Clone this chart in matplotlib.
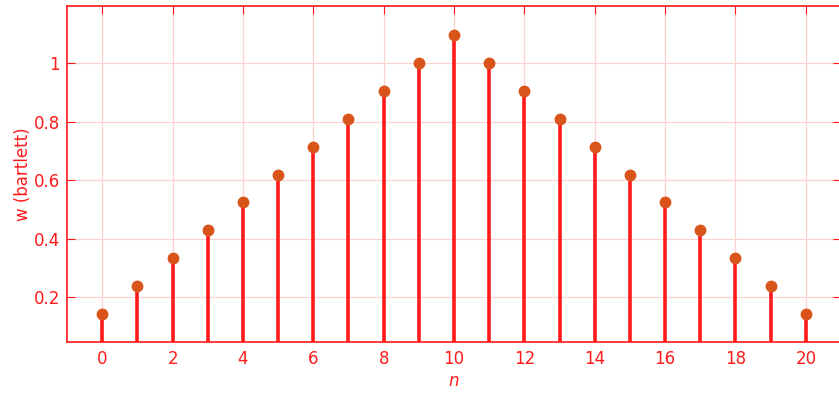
import matplotlib
matplotlib.use('Agg')
import matplotlib.pyplot as plt

n = list(range(21))
w = [0.143, 0.238, 0.333, 0.429, 0.524, 0.619, 0.714, 0.810, 0.905, 1.000, 1.095,
     1.000, 0.905, 0.810, 0.714, 0.619, 0.524, 0.429, 0.333, 0.238, 0.143]
xticks = list(range(0, 21, 2))
yticks = [0.2, 0.4, 0.6, 0.8, 1.0]
yticklabels = ['0.2', '0.4', '0.6', '0.8', '1']

red = '#ff1a1a'
fig = plt.figure(figsize=(8.39, 3.94), dpi=100)
ax = fig.add_axes([0.0799, 0.132, 0.9225, 0.853])

ax.vlines(n, 0, w, color=red, linewidth=2.6, zorder=3)
ax.plot(n, w, 'o', color='#d9541a', markersize=7.5, zorder=4)

ax.set_xlim(-1, 21)
ax.set_ylim(0.047, 1.195)
ax.set_xticks(xticks)
ax.set_yticks(yticks)
ax.set_yticklabels(yticklabels)
ax.grid(True, color='#ffd0d0', linewidth=0.9)
ax.set_axisbelow(True)
ax.tick_params(direction='in', top=True, right=True, colors=red,
               labelcolor=red, labelsize=12, length=6)
ax.tick_params(axis='y', pad=5)
ax.tick_params(axis='x', pad=6)
for s in ax.spines.values():
    s.set_color(red)
    s.set_linewidth(1.2)

ax.set_xlabel('$n$', color=red, fontsize=12, labelpad=3)
ax.set_ylabel('w (bartlett)', color=red, fontsize=12, labelpad=1.5)

fig.savefig('out.png', dpi=100)
